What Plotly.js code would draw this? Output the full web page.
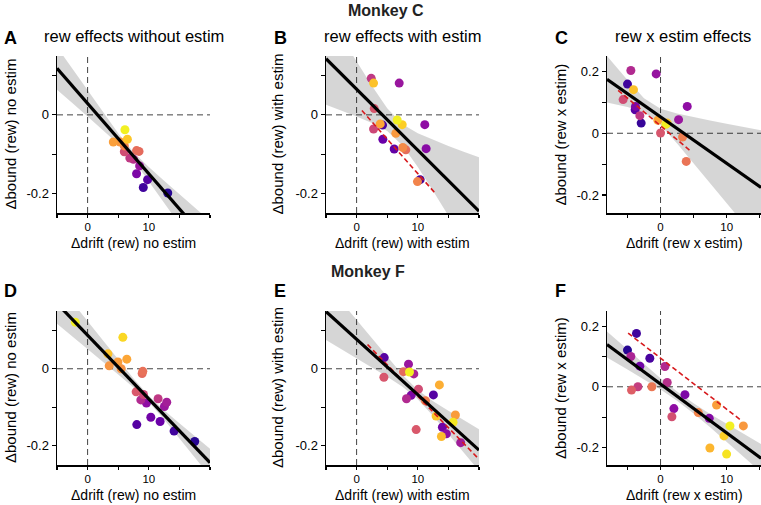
<!DOCTYPE html>
<html>
<head>
<meta charset="utf-8">
<script src="https://cdn.plot.ly/plotly-3.0.1.min.js"></script>
<style>html,body{margin:0;padding:0;background:#fff;}#chart{width:761px;height:505px;}</style>
</head>
<body>
<div id="chart"></div>
<script>
// ---------- Panel A: rew effects without estim (Monkey C)
const aX = [6.1, 6.5, 4.2, 5.3, 6.0, 8.0, 8.4, 6.0, 6.9, 7.5, 8.5, 8.0, 9.8, 9.1, 13.1];
const aY = [-0.038, -0.062, -0.069, -0.069, -0.079, -0.091, -0.093, -0.094, -0.110, -0.113, -0.130, -0.150, -0.165, -0.185, -0.199];
const aC = [0.98, 0.88, 0.78, 0.76, 0.70, 0.63, 0.62, 0.52, 0.45, 0.42, 0.33, 0.25, 0.15, 0.10, 0.05];
const aFitX = [-5, 20];
const aFitY = [0.1185, -0.329];
const aBandX = [-5, -2.5, 0, 2.5, 5, 7.5, 10, 12.5, 15, 17.5, 20];
const aBandHi = [0.173, 0.118, 0.062, 0.007, -0.047, -0.095, -0.133, -0.168, -0.202, -0.236, -0.270];
const aBandLo = [0.064, 0.030, -0.004, -0.038, -0.074, -0.115, -0.167, -0.222, -0.277, -0.333, -0.388];

// ---------- Panel B: rew effects with estim (Monkey C)
const bX = [2.39, 2.77, 6.96, 2.88, 6.63, 7.45, 4.24, 3.86, 11.14, 2.77, 6.41, 4.29, 7.55, 8.04, 6.14, 11.36, 10.38, 9.95];
const bY = [0.093, 0.081, 0.081, 0.016, -0.013, -0.025, -0.026, -0.023, -0.025, -0.036, -0.047, -0.062, -0.083, -0.089, -0.087, -0.086, -0.165, -0.170];
const bC = [0.45, 0.87, 0.33, 0.55, 0.98, 0.90, 0.12, 0.80, 0.30, 0.50, 0.76, 0.20, 0.72, 0.63, 0.18, 0.28, 0.10, 0.70];
const bFitX = [-5, 20];
const bFitY = [0.1432, -0.2453];
const bBandX = [-5, -2.5, 0, 2.5, 5, 7.5, 10, 12.5, 15, 17.5, 20];
const bBandHi = [0.261, 0.198, 0.135, 0.074, 0.017, -0.024, -0.047, -0.064, -0.079, -0.094, -0.108];
const bBandLo = [0.0255, 0.011, -0.004, -0.021, -0.041, -0.078, -0.133, -0.194, -0.256, -0.319, -0.383];
const bRedX = [0.87, 12.93];
const bRedY = [0.011, -0.201];

// ---------- Panel C: rew x estim effects (Monkey C)
const cX = [-4.49, -0.66, -5.0, -4.09, -5.66, -3.79, -3.84, -3.13, -2.93, 4.04, 2.73, -0.40, 1.01, 0.81, 0.0, 3.33, 3.89];
const cY = [0.203, 0.192, 0.159, 0.141, 0.109, 0.087, 0.076, 0.057, 0.033, 0.087, 0.044, 0.042, 0.033, 0.029, 0.001, -0.012, -0.091];
const cC = [0.40, 0.32, 0.10, 0.87, 0.52, 0.25, 0.15, 0.45, 0.08, 0.30, 0.33, 0.80, 0.88, 0.98, 0.55, 0.68, 0.65];
const cFitX = [-8.1, 15.2];
const cFitY = [0.1748, -0.1752];
const cBandX = [-8.1, -5, -2.5, 0, 2.5, 5, 7.5, 10, 12.5, 15.2];
const cBandHi = [0.250, 0.172, 0.113, 0.079, 0.064, 0.052, 0.041, 0.031, 0.021, 0.010];
const cBandLo = [0.0995, 0.085, 0.068, 0.027, -0.033, -0.096, -0.161, -0.225, -0.290, -0.360];
const cRedX = [-6.41, 4.70];
const cRedY = [0.139, -0.060];

// ---------- Panel D: rew effects without estim (Monkey F)
const dX = [-2.01, 5.76, 3.32, 6.41, 4.95, 3.53, 5.49, 9.02, 8.91, 7.93, 9.13, 11.52, 8.70, 9.62, 12.93, 12.55, 10.33, 11.85, 8.04, 14.13, 17.5];
const dY = [0.121, 0.0815, 0.0387, 0.025, 0.0176, 0.0076, 0.0, -0.0067, -0.0126, -0.060, -0.067, -0.078, -0.081, -0.089, -0.087, -0.098, -0.126, -0.137, -0.145, -0.162, -0.189];
const dC = [0.98, 0.92, 0.87, 0.80, 0.77, 0.75, 0.74, 0.64, 0.62, 0.56, 0.50, 0.45, 0.40, 0.30, 0.36, 0.33, 0.22, 0.20, 0.15, 0.10, 0.05];
const dFitX = [-5, 20];
const dFitY = [0.1697, -0.2436];
const dBandX = [-5, -2.5, 0, 2.5, 5, 7.5, 10, 12.5, 15, 17.5, 20];
const dBandHi = [0.2228, 0.1728, 0.1229, 0.0731, 0.0236, -0.0251, -0.0703, -0.1077, -0.1418, -0.1749, -0.2077];
const dBandLo = [0.1166, 0.0838, 0.0511, 0.0183, -0.0148, -0.0489, -0.0863, -0.1315, -0.1802, -0.2297, -0.2795];

// ---------- Panel E: rew effects with estim (Monkey F)
const eX = [4.51, 8.48, 4.46, 7.66, 8.64, 9.35, 13.53, 10.11, 12.55, 8.91, 8.15, 11.25, 9.73, 12.99, 16.14, 15.76, 14.02, 14.67, 13.86, 17.01];
const eY = [0.029, 0.012, -0.022, -0.0076, -0.0084, -0.0134, -0.042, -0.053, -0.068, -0.069, -0.078, -0.083, -0.158, -0.123, -0.120, -0.139, -0.152, -0.169, -0.176, -0.192];
const eC = [0.15, 0.33, 0.55, 0.62, 0.98, 0.38, 0.82, 0.52, 0.15, 0.25, 0.40, 0.68, 0.56, 0.88, 0.77, 0.96, 0.22, 0.30, 0.85, 0.35];
const eFitX = [-5, 20];
const eFitY = [0.1486, -0.2112];
const eBandX = [-5, -2.5, 0, 2.5, 5, 7.5, 10, 12.5, 15, 17.5, 20];
const eBandHi = [0.222, 0.174, 0.1256, 0.0776, 0.0302, -0.0157, -0.0552, -0.0841, -0.1093, -0.1335, -0.1573];
const eBandLo = [0.075, 0.051, 0.0276, 0.0036, -0.0208, -0.0469, -0.0794, -0.1225, -0.1693, -0.2171, -0.2651];
const eRedX = [1.79, 20.0];
const eRedY = [0.063, -0.235];

// ---------- Panel F: rew x estim effects (Monkey F)
const fX = [-3.64, -5.0, -4.49, -1.62, -3.13, 0.66, 1.01, -3.43, -4.39, -1.31, 3.69, 2.02, 1.72, 5.71, 8.48, 7.37, 10.5, 12.53, 9.6, 7.47, 10.0];
const fY = [0.176, 0.121, 0.100, 0.094, 0.068, 0.067, 0.014, 0.0, -0.011, 0.0, -0.026, -0.072, -0.099, -0.085, -0.060, -0.104, -0.129, -0.129, -0.162, -0.202, -0.222];
const fC = [0.10, 0.05, 0.38, 0.12, 0.22, 0.40, 0.42, 0.47, 0.58, 0.66, 0.25, 0.30, 0.53, 0.70, 0.78, 0.27, 0.98, 0.76, 0.90, 0.84, 0.95];
const fFitX = [-8.1, 15.2];
const fFitY = [0.1397, -0.2354];
const fBandX = [-8.1, -5, -2.5, 0, 2.5, 5, 7.5, 10, 12.5, 15.2];
const fBandHi = [0.1824, 0.1223, 0.0744, 0.0278, -0.0159, -0.0546, -0.0894, -0.1224, -0.1546, -0.189];
const fBandLo = [0.097, 0.0573, 0.0248, -0.0092, -0.0461, -0.0878, -0.1336, -0.181, -0.2294, -0.2818];
const fRedX = [-4.9, 12.27];
const fRedY = [0.177, -0.112];

// ---------- Labels
const letters = ['A', 'B', 'C', 'D', 'E', 'F'];
const subTitles = ['rew effects without estim', 'rew effects with estim', 'rew x estim effects'];
const monkeyTitles = ['Monkey C', 'Monkey F'];
const yTitles = ['\u0394bound (rew) no estim', '\u0394bound (rew) with estim', '\u0394bound (rew x estim)',
                 '\u0394bound (rew) no estim', '\u0394bound (rew) with estim', '\u0394bound (rew x estim)'];
const xTitles = ['\u0394drift (rew) no estim', '\u0394drift (rew) with estim', '\u0394drift (rew x estim)',
                 '\u0394drift (rew) no estim', '\u0394drift (rew) with estim', '\u0394drift (rew x estim)'];
const xTickVals = [-5, 0, 5, 10, 15, 20];
const xTickText = ['', '0', '', '10', '', ''];
const yTickVals = [-0.2, -0.1, 0, 0.1, 0.2];
const yTickText = ['-0.2', '', '0', '', '0.2'];

const plasma = [[0, '#0d0887'], [0.1, '#41049d'], [0.2, '#6a00a8'], [0.3, '#8f0da4'], [0.4, '#b12a90'],
  [0.5, '#cc4778'], [0.6, '#e16462'], [0.7, '#f2844b'], [0.8, '#fca636'], [0.9, '#fcce25'], [1, '#f0f921']];

const W = 761, H = 505;
const colsPx = [[57, 210], [326, 479], [607, 761]];
const rowsPx = [[56, 213], [311, 465]];
const xTitleOffset = [30, 30];
const panels = [
  {X: aX, Y: aY, C: aC, fx: aFitX, fy: aFitY, bx: aBandX, bh: aBandHi, bl: aBandLo, rx: null, ry: null, xr: [-5, 20], yr: [-0.25, 0.15]},
  {X: bX, Y: bY, C: bC, fx: bFitX, fy: bFitY, bx: bBandX, bh: bBandHi, bl: bBandLo, rx: bRedX, ry: bRedY, xr: [-5, 20], yr: [-0.25, 0.15]},
  {X: cX, Y: cY, C: cC, fx: cFitX, fy: cFitY, bx: cBandX, bh: cBandHi, bl: cBandLo, rx: cRedX, ry: cRedY, xr: [-8.1, 15.2], yr: [-0.258, 0.25]},
  {X: dX, Y: dY, C: dC, fx: dFitX, fy: dFitY, bx: dBandX, bh: dBandHi, bl: dBandLo, rx: null, ry: null, xr: [-5, 20], yr: [-0.25, 0.15]},
  {X: eX, Y: eY, C: eC, fx: eFitX, fy: eFitY, bx: eBandX, bh: eBandHi, bl: eBandLo, rx: eRedX, ry: eRedY, xr: [-5, 20], yr: [-0.25, 0.15]},
  {X: fX, Y: fY, C: fC, fx: fFitX, fy: fFitY, bx: fBandX, bh: fBandHi, bl: fBandLo, rx: fRedX, ry: fRedY, xr: [-8.1, 15.2], yr: [-0.258, 0.25]}
];

const traces = [];
const shapes = [];
const annotations = [];
const FONT = 'Liberation Sans, Arial, Helvetica, sans-serif';
const layout = {
  width: W, height: H,
  margin: {l: 0, r: 0, t: 0, b: 0},
  paper_bgcolor: '#fff', plot_bgcolor: 'rgba(0,0,0,0)',
  showlegend: false,
  font: {family: FONT, color: '#000', size: 13}
};

panels.forEach((p, i) => {
  const n = i + 1;
  const xa = 'x' + (n === 1 ? '' : n), ya = 'y' + (n === 1 ? '' : n);
  const r = Math.floor(i / 3);
  const col = colsPx[i % 3], row = rowsPx[r];
  layout['xaxis' + (n === 1 ? '' : n)] = {
    domain: [col[0] / W, col[1] / W], anchor: ya, range: p.xr,
    showline: true, linecolor: '#000', linewidth: 1.5, showgrid: false, zeroline: false,
    ticks: 'outside', ticklen: 3, tickwidth: 1.2, tickcolor: '#000',
    tickmode: 'array', tickvals: xTickVals, ticktext: xTickText,
    tickfont: {size: 11.5, family: FONT, color: '#000'}, fixedrange: true
  };
  layout['yaxis' + (n === 1 ? '' : n)] = {
    domain: [1 - row[1] / H, 1 - row[0] / H], anchor: xa, range: p.yr,
    showline: true, linecolor: '#000', linewidth: 1.5, showgrid: false, zeroline: false,
    ticks: 'outside', ticklen: 4, tickwidth: 1.2, tickcolor: '#000',
    tickmode: 'array', tickvals: yTickVals, ticktext: yTickText,
    tickfont: {size: 13, family: FONT, color: '#000'}, fixedrange: true
  };
  // dashed zero lines
  shapes.push({type: 'line', xref: xa, yref: ya + ' domain', x0: 0, x1: 0, y0: 0, y1: 1,
    line: {color: '#444', width: 1, dash: '6px,4px'}, layer: 'below'});
  shapes.push({type: 'line', xref: xa + ' domain', yref: ya, x0: 0, x1: 1, y0: 0, y1: 0,
    line: {color: '#444', width: 1, dash: '6px,4px'}, layer: 'below'});
  // confidence band
  traces.push({
    x: p.bx.concat(p.bx.slice().reverse()),
    y: p.bh.concat(p.bl.slice().reverse()),
    xaxis: xa, yaxis: ya, type: 'scatter', mode: 'lines', fill: 'toself',
    fillcolor: 'rgba(0,0,0,0.16)', line: {width: 0, color: 'rgba(0,0,0,0)'}, hoverinfo: 'skip'
  });
  // points, low colour values first
  const idx = p.X.map((_, k) => k).sort((u, v) => p.C[u] - p.C[v]);
  traces.push({
    x: idx.map(k => p.X[k]), y: idx.map(k => p.Y[k]),
    xaxis: xa, yaxis: ya, type: 'scatter', mode: 'markers',
    marker: {size: 9, color: idx.map(k => p.C[k]), colorscale: plasma, cmin: 0, cmax: 1, line: {width: 0}},
    cliponaxis: false
  });
  // red dashed line
  if (p.rx) {
    traces.push({x: p.rx, y: p.ry, xaxis: xa, yaxis: ya, type: 'scatter', mode: 'lines',
      line: {color: '#d7191c', width: 1.6, dash: '5px,3px'}});
  }
  // black fit line
  traces.push({x: p.fx, y: p.fy, xaxis: xa, yaxis: ya, type: 'scatter', mode: 'lines',
    line: {color: '#000', width: 3.2}});

  // panel letter
  const letterX = [2, 272, 553][i % 3];
  const letterY = [38, 291][r];
  annotations.push({text: '<b>' + letters[i] + '</b>', xref: 'paper', yref: 'paper',
    x: letterX / W, y: 1 - letterY / H, xanchor: 'left', yanchor: 'middle', showarrow: false,
    font: {size: 18, family: FONT, color: '#000'}});
  // y title
  const ytx = [10, 277, 560][i % 3];
  annotations.push({text: yTitles[i], xref: 'paper', yref: 'paper',
    x: ytx / W, y: 1 - ((row[0] + row[1]) / 2) / H, xanchor: 'center', yanchor: 'middle',
    textangle: -90, showarrow: false, font: {size: 15, family: FONT, color: '#000'}});
  // x title
  annotations.push({text: xTitles[i], xref: 'paper', yref: 'paper',
    x: ((col[0] + Math.min(col[1], 761)) / 2) / W, y: 1 - (row[1] + xTitleOffset[r]) / H,
    xanchor: 'center', yanchor: 'middle', showarrow: false,
    font: {size: 14, family: FONT, color: '#000'}});
});

// sub-titles (top row)
[134, 402, 683].forEach((cx, k) => {
  annotations.push({text: subTitles[k], xref: 'paper', yref: 'paper', x: cx / W, y: 1 - 36 / H,
    xanchor: 'center', yanchor: 'middle', showarrow: false, font: {size: 16.5, family: FONT, color: '#000'}});
});
// monkey titles
annotations.push({text: '<b>' + monkeyTitles[0] + '</b>', xref: 'paper', yref: 'paper', x: 386 / W, y: 1 - 10 / H,
  xanchor: 'center', yanchor: 'middle', showarrow: false, font: {size: 16, family: FONT, color: '#222'}});
annotations.push({text: '<b>' + monkeyTitles[1] + '</b>', xref: 'paper', yref: 'paper', x: 368 / W, y: 1 - 271 / H,
  xanchor: 'center', yanchor: 'middle', showarrow: false, font: {size: 16, family: FONT, color: '#222'}});

layout.shapes = shapes;
layout.annotations = annotations;

Plotly.newPlot('chart', traces, layout, {staticPlot: true, displayModeBar: false});
</script>
</body>
</html>
